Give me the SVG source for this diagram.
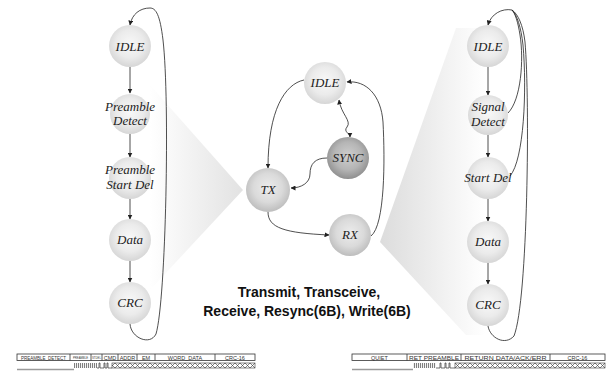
<svg xmlns="http://www.w3.org/2000/svg" width="607" height="372" viewBox="0 0 607 372">
<defs>
<radialGradient id="gLight" cx="50%" cy="45%" r="55%">
<stop offset="0" stop-color="#f8f8f8"/><stop offset="0.6" stop-color="#ebebeb"/><stop offset="1" stop-color="#d6d6d6"/>
</radialGradient>
<radialGradient id="gMid" cx="50%" cy="45%" r="55%">
<stop offset="0" stop-color="#ececec"/><stop offset="0.6" stop-color="#dadada"/><stop offset="1" stop-color="#bdbdbd"/>
</radialGradient>
<radialGradient id="gDark" cx="50%" cy="45%" r="55%">
<stop offset="0" stop-color="#cfcfcf"/><stop offset="0.6" stop-color="#b5b5b5"/><stop offset="1" stop-color="#8f8f8f"/>
</radialGradient>
<linearGradient id="wedgeL" x1="150" y1="0" x2="243" y2="0" gradientUnits="userSpaceOnUse">
<stop offset="0" stop-color="#ffffff"/><stop offset="1" stop-color="#e2e2e2"/>
</linearGradient>
<linearGradient id="wedgeR" x1="380" y1="0" x2="485" y2="0" gradientUnits="userSpaceOnUse">
<stop offset="0" stop-color="#dcdcdc"/><stop offset="1" stop-color="#ffffff"/>
</linearGradient>
<marker id="ah" viewBox="0 0 10 10" refX="9" refY="5" markerWidth="5" markerHeight="5" orient="auto-start-reverse" markerUnits="userSpaceOnUse">
<path d="M0,0 L10,5 L0,10 z" fill="#222"/>
</marker>
<pattern id="xpat" x="0" y="363" width="5" height="5" patternUnits="userSpaceOnUse">
<path d="M0,0 L5,5 M0,5 L5,0" stroke="#333" stroke-width="0.6"/>
</pattern>
<pattern id="ipat" x="0" y="363" width="2" height="5" patternUnits="userSpaceOnUse">
<line x1="0.6" y1="0" x2="0.6" y2="5" stroke="#333" stroke-width="0.7"/>
</pattern>
</defs>
<style>
.n text{font-family:"Liberation Serif","Times New Roman",serif;font-style:italic;font-size:13px;fill:#222;text-anchor:middle}
.e path{fill:none;stroke:#222;stroke-width:0.8}
.arr{marker-end:url(#ah)}
.cap{font-family:"Liberation Sans",Arial,sans-serif;font-weight:bold;font-size:14px;fill:#111;text-anchor:middle}
.f rect{fill:#fff;stroke:#333;stroke-width:0.8}
.f line{stroke:#333;stroke-width:0.8}
.f text{font-family:"Liberation Sans",Arial,sans-serif;font-size:5.5px;fill:#333;text-anchor:middle}
</style>

<!-- background wedges -->
<polygon points="150,85 243,190 150,290" fill="url(#wedgeL)"/>
<polygon points="380,242 456,28 485,28 485,335 466,335" fill="url(#wedgeR)"/>

<g id="connectors" class="e">
<!-- left column -->
<path class="arr" d="M130,67 L130,93"/>
<path class="arr" d="M130,134 L130,157"/>
<path class="arr" d="M130,198 L130,219"/>
<path class="arr" d="M130,261 L130,282"/>
<path class="arr" d="M130,324 C131,338 150,346 156,334 C166,300 170,100 163,40 C160,15 156,8 150,8 C140,8 132,14 130,25"/>
<!-- right column -->
<path class="arr" d="M488,67 L488,95"/>
<path class="arr" d="M488,135 L488,157"/>
<path class="arr" d="M488,199 L488,221"/>
<path class="arr" d="M488,263 L488,284"/>
<path class="arr" d="M512,10 C502,8 491,14 488,25"/>
<path d="M508,113 C521,100 524,60 520,35 C518,22 515,13 512,10"/>
<path d="M510,176 C524,160 527,90 523,45 C521,27 517,15 512,10"/>
<path d="M488,326 C490,338 505,346 514,336 C528,300 530,100 525,42 C523,25 518,14 512,10"/>
<!-- middle -->
<path class="arr" d="M304,80 C285,84 268,110 268,168"/>
<path class="arr" d="M371,236 C385,225 385,160 383,122 C381,95 366,80 347,82"/>
<path class="arr" style="marker-start:url(#ah)" d="M339,100 C341,114 352,121 347,127 C343,132 350,133 350,137"/>
<path class="arr" d="M327,158 C315,158 310,164 310,174 C310,183 301,188 291,188"/>
<path class="arr" d="M268,212 C268,228 285,233 329,235"/>
</g>

<!-- left nodes -->
<g id="L_IDLE" class="n"><circle cx="130" cy="46" r="21" fill="url(#gLight)"/><text x="130" y="51">IDLE</text></g>
<g id="L_PreambleDetect" class="n"><circle cx="130" cy="114" r="20" fill="url(#gLight)"/><text x="130" y="111">Preamble</text><text x="130" y="125">Detect</text></g>
<g id="L_PreambleStartDel" class="n"><circle cx="130" cy="178" r="21" fill="url(#gLight)"/><text x="130" y="174">Preamble</text><text x="130" y="189">Start Del</text></g>
<g id="L_Data" class="n"><circle cx="130" cy="240" r="21" fill="url(#gLight)"/><text x="130" y="244">Data</text></g>
<g id="L_CRC" class="n"><circle cx="130" cy="303" r="21" fill="url(#gLight)"/><text x="130" y="307">CRC</text></g>

<!-- middle nodes -->
<g id="M_IDLE" class="n"><circle cx="325" cy="83" r="21" fill="url(#gLight)"/><text x="325" y="87">IDLE</text></g>
<g id="M_SYNC" class="n"><circle cx="348" cy="158" r="21" fill="url(#gDark)"/><text x="348" y="162">SYNC</text></g>
<g id="M_TX" class="n"><circle cx="268" cy="190" r="22" fill="url(#gMid)"/><text x="268" y="194">TX</text></g>
<g id="M_RX" class="n"><circle cx="350" cy="235" r="21" fill="url(#gMid)"/><text x="350" y="239">RX</text></g>

<!-- right nodes -->
<g id="R_IDLE" class="n"><circle cx="488" cy="46" r="21" fill="url(#gLight)"/><text x="488" y="51">IDLE</text></g>
<g id="R_SignalDetect" class="n"><circle cx="488" cy="115" r="20" fill="url(#gLight)"/><text x="488" y="111">Signal</text><text x="488" y="126">Detect</text></g>
<g id="R_StartDel" class="n"><circle cx="488" cy="178" r="21" fill="url(#gLight)"/><text x="488" y="182">Start Del</text></g>
<g id="R_Data" class="n"><circle cx="488" cy="242" r="21" fill="url(#gLight)"/><text x="488" y="246">Data</text></g>
<g id="R_CRC" class="n"><circle cx="488" cy="305" r="21" fill="url(#gLight)"/><text x="488" y="309">CRC</text></g>

<text class="cap" x="309" y="297">Transmit, Transceive,</text>
<text class="cap" x="307" y="316">Receive, Resync(6B), Write(6B)</text>

<!-- left frame -->
<g id="frameL" class="f">
<rect x="17" y="354" width="238" height="6.5"/>
<line x1="70" y1="354" x2="70" y2="360.5"/><line x1="91" y1="354" x2="91" y2="360.5"/>
<line x1="102" y1="354" x2="102" y2="360.5"/><line x1="118" y1="354" x2="118" y2="360.5"/>
<line x1="137" y1="354" x2="137" y2="360.5"/><line x1="155" y1="354" x2="155" y2="360.5"/>
<line x1="215" y1="354" x2="215" y2="360.5"/>
<text x="43.5" y="359.5" style="font-size:4.5px">PREAMBLE_DETECT</text>
<text x="80.5" y="359" style="font-size:2.8px">PREAMBLE</text>
<text x="96.5" y="359" style="font-size:2.8px">STDEL</text>
<text x="110" y="359.5">CMD</text>
<text x="127.5" y="359.5">ADDR</text>
<text x="146" y="359.5">EM</text>
<text x="185" y="359.5">WORD_DATA</text>
<text x="235" y="359.5">CRC-16</text>
<line x1="17" y1="369.5" x2="74" y2="369.5" style="stroke:#9a9a9a;stroke-width:1.6"/>
<rect x="74" y="363" width="23" height="5" style="fill:url(#ipat);stroke:none"/>
<path d="M97,368 L99,368 L99,363 L100,363 L100,368 L104,368 L104,363 L105,363 L105,368 L107,368 L107,363 L108,363 L108,368 L112,368" fill="none" stroke="#333" stroke-width="0.7"/>
<rect x="112" y="363" width="143" height="5" style="fill:url(#xpat);stroke:#333;stroke-width:0.6"/>
</g>

<!-- right frame -->
<g id="frameR" class="f">
<rect x="352" y="354" width="253" height="6.5"/>
<line x1="407" y1="354" x2="407" y2="360.5"/><line x1="461" y1="354" x2="461" y2="360.5"/>
<line x1="550" y1="354" x2="550" y2="360.5"/>
<text x="379.5" y="359.5">QUIET</text>
<text x="434" y="359.5" textLength="50" lengthAdjust="spacingAndGlyphs">RET PREAMBLE</text>
<text x="505.5" y="359.5" textLength="82" lengthAdjust="spacingAndGlyphs">RETURN DATA/ACK/ERR</text>
<text x="577.5" y="359.5">CRC-16</text>
<line x1="352" y1="369.5" x2="413" y2="369.5" style="stroke:#9a9a9a;stroke-width:1.6"/>
<rect x="413" y="363" width="23" height="5" style="fill:url(#ipat);stroke:none"/>
<path d="M436,368 L440,368 L440,363 L441,363 L441,368 L445,368 L445,363 L446,363 L446,368 L449,368 L449,363 L450,363 L450,368 L455,368" fill="none" stroke="#333" stroke-width="0.7"/>
<rect x="455" y="363" width="150" height="5" style="fill:url(#xpat);stroke:#333;stroke-width:0.6"/>
</g>
</svg>
